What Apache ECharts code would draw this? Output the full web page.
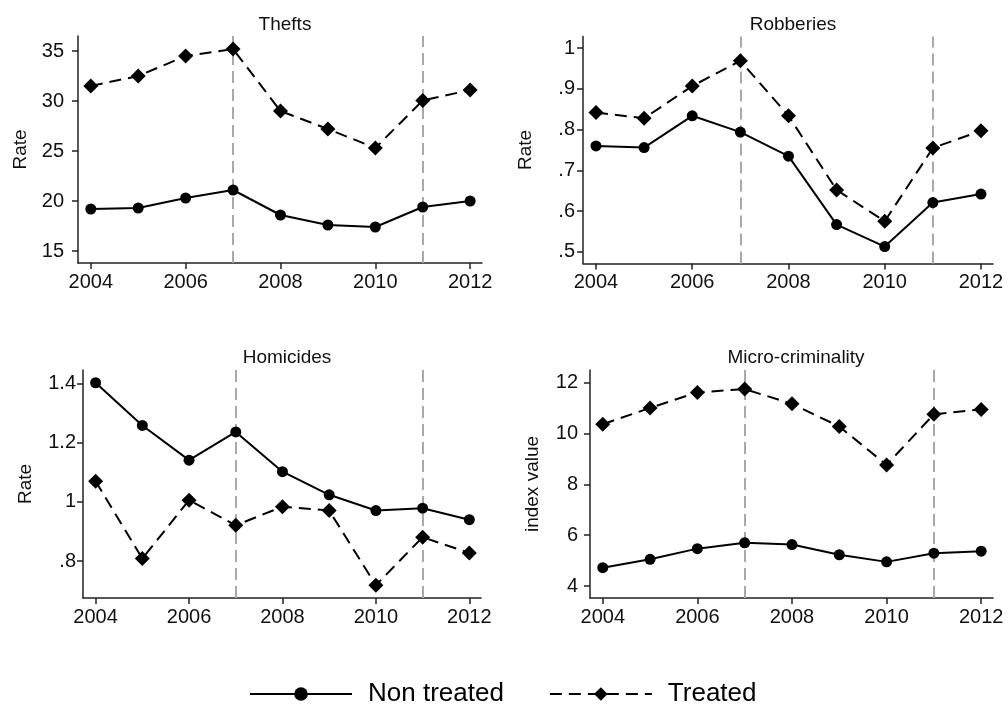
<!DOCTYPE html>
<html>
<head>
<meta charset="utf-8">
<script src="https://cdn.jsdelivr.net/npm/echarts@6/dist/echarts.min.js"></script>
<style>
html,body{margin:0;padding:0;background:#fff;}
#chart{width:1008px;height:709px;}
</style>
</head>
<body>
<div id="chart"></div>
<script>
var years = [2004, 2005, 2006, 2007, 2008, 2009, 2010, 2011, 2012];
var eventYears = [2007, 2011];
var xTicks = [2004, 2006, 2008, 2010, 2012];

var panelTitles = ['Thefts', 'Robberies', 'Homicides', 'Micro-criminality'];
var yNames = ['Rate', 'Rate', 'Rate', 'index value'];
var seriesNames = ['Non treated', 'Treated'];

var theftsNon = [19.2, 19.3, 20.3, 21.1, 18.6, 17.6, 17.4, 19.4, 20.0];
var theftsTr  = [31.5, 32.5, 34.5, 35.2, 29.0, 27.2, 25.3, 30.05, 31.1];
var robNon = [0.760, 0.756, 0.834, 0.794, 0.735, 0.567, 0.513, 0.621, 0.642];
var robTr  = [0.842, 0.828, 0.907, 0.969, 0.834, 0.652, 0.575, 0.755, 0.797];
var homNon = [1.402, 1.258, 1.141, 1.236, 1.102, 1.024, 0.971, 0.979, 0.940];
var homTr  = [1.070, 0.809, 1.006, 0.921, 0.984, 0.971, 0.719, 0.881, 0.828];
var microNon = [4.72, 5.05, 5.47, 5.70, 5.63, 5.23, 4.95, 5.29, 5.37];
var microTr  = [10.36, 11.0, 11.61, 11.74, 11.16, 10.27, 8.76, 10.75, 10.94];

var theftsTicks = [15, 20, 25, 30, 35];
var robTicks = [0.5, 0.6, 0.7, 0.8, 0.9, 1];
var homTicks = [0.8, 1, 1.2, 1.4];
var microTicks = [4, 6, 8, 10, 12];

var FONT = '"Liberation Sans", Arial, Helvetica, sans-serif';

var panels = [
  {non: theftsNon, tr: theftsTr, ticks: theftsTicks, min: 13.8, max: 36.5,
   grid: {left: 78, top: 36, width: 404, height: 227}, margin: 14, titleX: 280, titleY: 10},
  {non: robNon, tr: robTr, ticks: robTicks, min: 0.4715, max: 1.0286,
   grid: {left: 583, top: 36.5, width: 410, height: 227}, margin: 8, titleX: 788, titleY: 10},
  {non: homNon, tr: homTr, ticks: homTicks, min: 0.676, max: 1.445,
   grid: {left: 83, top: 370, width: 398, height: 228}, margin: 7, titleX: 282, titleY: 343},
  {non: microNon, tr: microTr, ticks: microTicks, min: 3.53, max: 12.49,
   grid: {left: 590, top: 370, width: 403, height: 228}, margin: 12, titleX: 791, titleY: 343}
];

function fmt(v) {
  var s = String(Math.round(v * 1000) / 1000);
  return s.replace(/^0\./, '.');
}
function pairs(vals) {
  return years.map(function (y, i) { return [y, vals[i]]; });
}

var option = {
  backgroundColor: '#ffffff',
  animation: false,
  title: [],
  grid: [],
  xAxis: [],
  yAxis: [],
  series: [],
  legend: {
    data: seriesNames,
    left: 244,
    top: 676,
    itemWidth: 102,
    itemHeight: 17,
    itemGap: 45,
    textStyle: {fontFamily: FONT, fontSize: 26, color: '#000', padding: [0, 0, 0, 11]},
    selectedMode: false
  }
};

panels.forEach(function (p, i) {
  option.title.push({
    text: panelTitles[i],
    left: p.titleX,
    top: p.titleY,
    textAlign: 'center',
    textStyle: {fontFamily: FONT, fontSize: 19, fontWeight: 'normal', color: '#111'}
  });
  option.grid.push({left: p.grid.left, top: p.grid.top, width: p.grid.width, height: p.grid.height, containLabel: false});
  option.xAxis.push({
    type: 'value', gridIndex: i, min: 2003.73, max: 2012.25,
    axisLine: {show: true, onZero: false, lineStyle: {color: '#222', width: 1.5}},
    axisTick: {show: true, customValues: xTicks, length: 6, lineStyle: {color: '#222', width: 1.5}},
    axisLabel: {customValues: xTicks, margin: 9, fontFamily: FONT, fontSize: 20, color: '#111',
      formatter: function (v) { return String(v); }},
    splitLine: {show: false}
  });
  option.yAxis.push({
    type: 'value', gridIndex: i, min: p.min, max: p.max,
    name: yNames[i], nameLocation: 'middle', nameGap: 48,
    nameTextStyle: {fontFamily: FONT, fontSize: 19, color: '#111'},
    axisLine: {show: true, onZero: false, lineStyle: {color: '#222', width: 1.5}},
    axisTick: {show: true, customValues: p.ticks, length: 6, lineStyle: {color: '#222', width: 1.5}},
    axisLabel: {customValues: p.ticks, margin: p.margin, fontFamily: FONT, fontSize: 20, color: '#111',
      formatter: fmt},
    splitLine: {show: false}
  });
  option.series.push({
    name: seriesNames[0], type: 'line', xAxisIndex: i, yAxisIndex: i,
    data: pairs(p.non),
    symbol: 'circle', symbolSize: 11,
    itemStyle: {color: '#000'},
    lineStyle: {color: '#000', width: 2, type: 'solid'},
    markLine: {
      silent: true, symbol: 'none', z: 1,
      label: {show: false},
      lineStyle: {color: '#a9a9a9', width: 2, type: [12, 6]},
      data: eventYears.map(function (y) { return {xAxis: y}; })
    },
    z: 3
  });
  option.series.push({
    name: seriesNames[1], type: 'line', xAxisIndex: i, yAxisIndex: i,
    data: pairs(p.tr),
    symbol: 'diamond', symbolSize: 15,
    itemStyle: {color: '#000'},
    lineStyle: {color: '#000', width: 2, type: [12, 7]},
    z: 3
  });
});

var chart = echarts.init(document.getElementById('chart'), null, {renderer: 'canvas'});
chart.setOption(option);
</script>
</body>
</html>
